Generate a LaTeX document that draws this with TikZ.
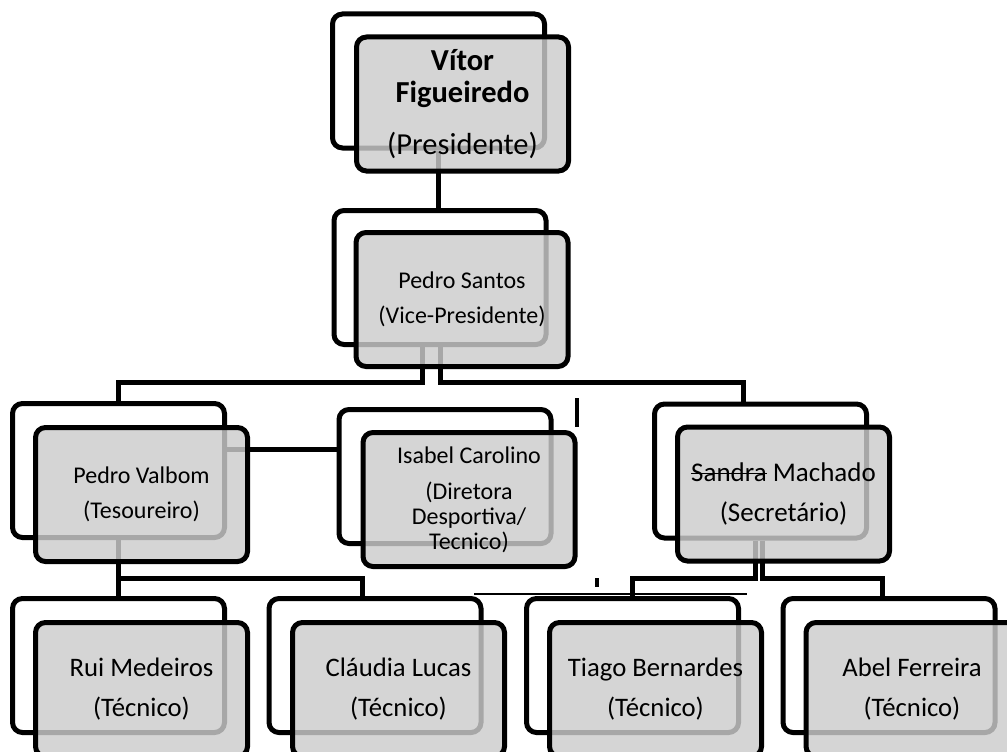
\documentclass[tikz,border=0pt]{standalone}
\usepackage{fontspec}
\setmainfont{Carlito}
\newsavebox{\strikebox}
\newcommand{\strikeword}[1]{\sbox{\strikebox}{#1}\rlap{\rule[0.27em]{\wd\strikebox}{1.6pt}}\usebox{\strikebox}}
\tikzset{
  backbox/.style = {draw, line width=5pt, rounded corners=10pt, fill=white,
    minimum width=212pt, minimum height=134pt, inner sep=0pt},
  frontbox/.style = {backbox, fill=black!20, fill opacity=0.82, text opacity=1, align=center},
  link/.style = {line width=5pt},
}

\begin{document}
\begin{tikzpicture}[x=1pt, y=-1pt]
  \useasboundingbox (0,0) rectangle (1007,752);
  \clip (0,0) rectangle (1007,752);
  % back boxes
  \node [backbox] (PRb) at (438.5, 81) {};
  \node [backbox] (VPb) at (440, 277.5) {};
  \node [backbox] (TSb) at (118.5, 470.5) {};
  \node [backbox] (DIb) at (445, 476.5) {};
  \node [backbox] (SEb) at (760.5, 471) {};
  \node [backbox] (RMb) at (118.5, 665.5) {};
  \node [backbox] (CLb) at (375, 665.5) {};
  \node [backbox] (TBb) at (632.5, 665.5) {};
  \node [backbox] (AFb) at (889, 665.5) {};
  % connectors
  \coordinate (r1) at (0, 382);
  \coordinate (r2) at (0, 449);
  \coordinate (r3) at (0, 578);
  \coordinate (sd) at ([xshift=-17pt]SEb.north);
  \coordinate (cd) at ([xshift=-13pt]CLb.north);
  \coordinate (ad) at ([xshift=-7pt]AFb.north);
  \draw [link] (PRb.south) -- (PRb.south |- VPb.north);
  \draw [link] ([xshift=-18pt]VPb.south) |- (r1 -| TSb.north) -- (TSb.north);
  \draw [link] (VPb.south) |- (sd |- r1) -- (sd);
  \draw [link] (r2 -| TSb.east) -- (r2 -| DIb.west);
  \draw [link] (TSb.south) -- (RMb.north);
  \draw [link] (TSb.south |- r3) -| (cd);
  \draw [link] ([xshift=-5pt]SEb.south) |- (r3 -| TBb.north) -- (TBb.north);
  \draw [link] ([xshift=2pt]SEb.south) |- (ad |- r3) -- (ad);
  \draw [line width=4pt] (577, 398) -- (577, 427);
  \draw [line width=4pt] (597, 578) -- (597, 587);
  \draw [line width=2.5pt] (474, 594) -- (747, 594);
  % front boxes
  \node [frontbox, font=\fontsize{30.5}{32}\selectfont] (PR) at (462.5, 104)
    {\textbf{Vítor}\\\textbf{Figueiredo}\\[20pt](Presidente)};
  \node [frontbox, font=\fontsize{24}{35}\selectfont] (VP) at (462, 299.5)
    {Pedro Santos\\(Vice-Presidente)};
  \node [frontbox, font=\fontsize{24}{35}\selectfont] (TS) at (141.5, 494.5)
    {Pedro Valbom\\(Tesoureiro)};
  \node [frontbox, font=\fontsize{24}{25}\selectfont] (DI) at (469, 499.5)
    {Isabel Carolino\\[11pt](Diretora\\Desportiva/\\Tecnico)};
  \node [frontbox, font=\fontsize{27}{40}\selectfont] (SE) at (783.5, 494)
    {\strikeword{Sandra} Machado\\(Secretário)};
  \node [frontbox, font=\fontsize{26.7}{40}\selectfont] (RM) at (141.5, 689.5)
    {Rui Medeiros\\(Técnico)};
  \node [frontbox, font=\fontsize{26.7}{40}\selectfont] (CL) at (398.5, 689.5)
    {Cláudia Lucas\\(Técnico)};
  \node [frontbox, font=\fontsize{26.7}{40}\selectfont] (TB) at (655.5, 689.5)
    {Tiago Bernardes\\(Técnico)};
  \node [frontbox, font=\fontsize{26.7}{40}\selectfont] (AF) at (912, 689.5)
    {Abel Ferreira\\(Técnico)};
\end{tikzpicture}
\end{document}
